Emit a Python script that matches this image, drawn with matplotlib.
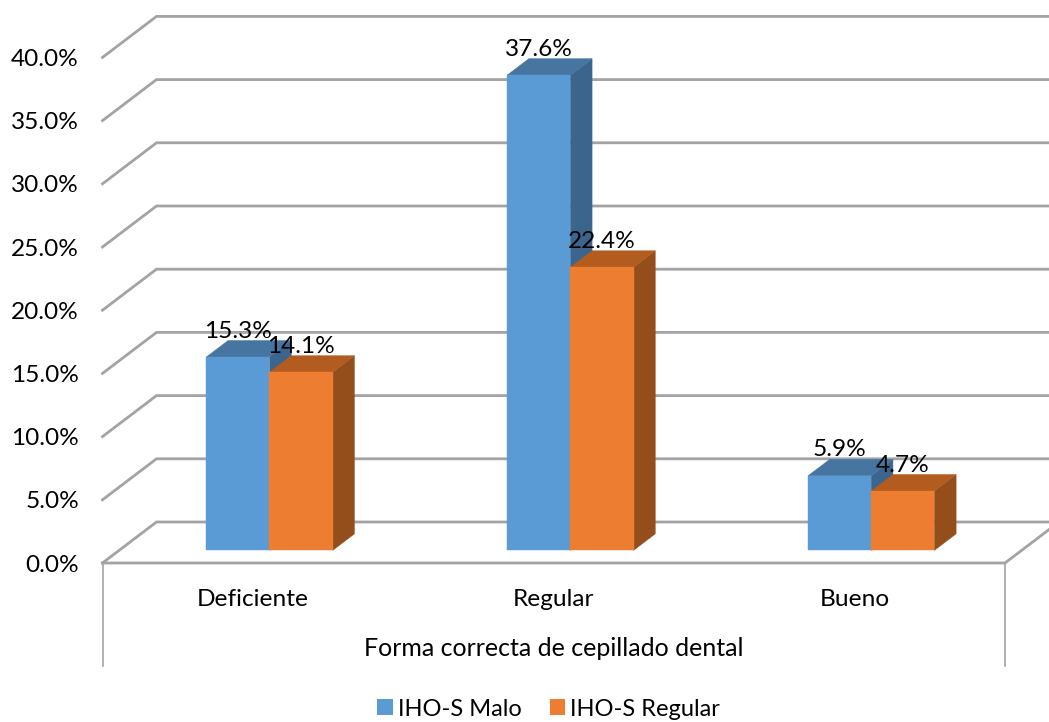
import matplotlib
matplotlib.use('Agg')
import matplotlib.pyplot as plt
from matplotlib.patches import Polygon, Rectangle

plt.rcParams['font.family'] = ['Lato', 'DejaVu Sans']

categories = ['Deficiente', 'Regular', 'Bueno']
series_names = ['IHO-S Malo', 'IHO-S Regular']
malo = [15.3, 37.6, 5.9]
regular = [14.1, 22.4, 4.7]
y_ticks = [0, 5, 10, 15, 20, 25, 30, 35, 40]

W, H = 1049, 722
FS = 17.6
front_colors = ['#5B9BD5', '#ED7D31']
top_colors = ['#4675A1', '#B25C20']
side_colors = ['#3B658C', '#944E1B']
grid_color = '#A3A3A3'

fig = plt.figure(figsize=(W / 100, H / 100), dpi=100)
# axes rectangle is the front plane of the 3d box
ax = fig.add_axes([102.5 / W, 1 - 563 / H, 902.5 / W, 505.6 / H])
ax.set_xlim(0, 3)
ax.set_ylim(0, 40)

# depth of the floor expressed in axis units
px_x = 3 / 902.5
px_y = 40 / 505.6
depth_x = 54 * px_x
depth_y = 41 * px_y
bar_width = 63.2 * px_x
bar_d0 = 0.307
bar_d1 = 0.71


def project(x, y, d):
    return (x + d * depth_x, y + d * depth_y)


# walls: a side line and a back line per tick, back line runs off the figure
for t in y_ticks:
    ax.plot([0, depth_x, 3 + depth_x], [t, t + depth_y, t + depth_y],
            color=grid_color, lw=2, clip_on=False, zorder=1, solid_joinstyle='miter')

# floor front edge and right edge
ax.plot([0, 3, 3 + depth_x], [0, 0, depth_y], color=grid_color, lw=2, clip_on=False, zorder=1)
# axis drop lines around the category labels
for x in [0, 3]:
    ax.plot([x, x], [0, -103 * px_y], color=grid_color, lw=1.2, clip_on=False, zorder=1)


def face(points, color, z):
    ax.add_patch(Polygon(points, closed=True, fc=color, ec=color, lw=0.3, clip_on=False, zorder=z))


def draw_bar(x, val, s):
    a = project(x, 0, bar_d0)
    b = project(x + bar_width, 0, bar_d0)
    c = project(x + bar_width, val, bar_d0)
    d = project(x, val, bar_d0)
    c2 = project(x + bar_width, val, bar_d1)
    d2 = project(x, val, bar_d1)
    b2 = project(x + bar_width, 0, bar_d1)
    z = 3 + s
    face([b, b2, c2, c], side_colors[s], z)
    face([d, c, c2, d2], top_colors[s], z)
    face([a, b, c, d], front_colors[s], z)
    # value label sits over the top face
    ax.text(d[0] + bar_width / 2, d[1] + 26 * px_y, '%.1f%%' % val, ha='center', va='center',
            fontsize=FS, color='black', zorder=10, clip_on=False)


for i in range(len(categories)):
    left = i + 0.5 - bar_width
    draw_bar(left, malo[i], 0)
    draw_bar(left + bar_width, regular[i], 1)

ax.set_yticks(y_ticks)
ax.set_yticklabels(['%.1f%%' % t for t in y_ticks], fontsize=FS)
ax.set_xticks([i + 0.5 for i in range(len(categories))])
ax.set_xticklabels(categories, fontsize=FS)
ax.tick_params(axis='y', length=0, pad=17)
ax.tick_params(axis='x', length=0, pad=18.5)
for spine in ax.spines.values():
    spine.set_visible(False)
ax.patch.set_visible(False)

fig.text(554 / W, 1 - 649 / H, 'Forma correcta de cepillado dental', ha='center', va='center', fontsize=18)

handles = [Rectangle((0, 0), 1, 1, fc=front_colors[s], ec='none') for s in range(2)]
fig.legend(handles, series_names, loc='center', bbox_to_anchor=(548.5 / W, 1 - 709 / H), ncol=2, frameon=False,
           fontsize=17, handlelength=0.66, handleheight=0.66, handletextpad=0.2, columnspacing=1.2,
           borderpad=0, borderaxespad=0)

fig.savefig('out.png', dpi=100)
